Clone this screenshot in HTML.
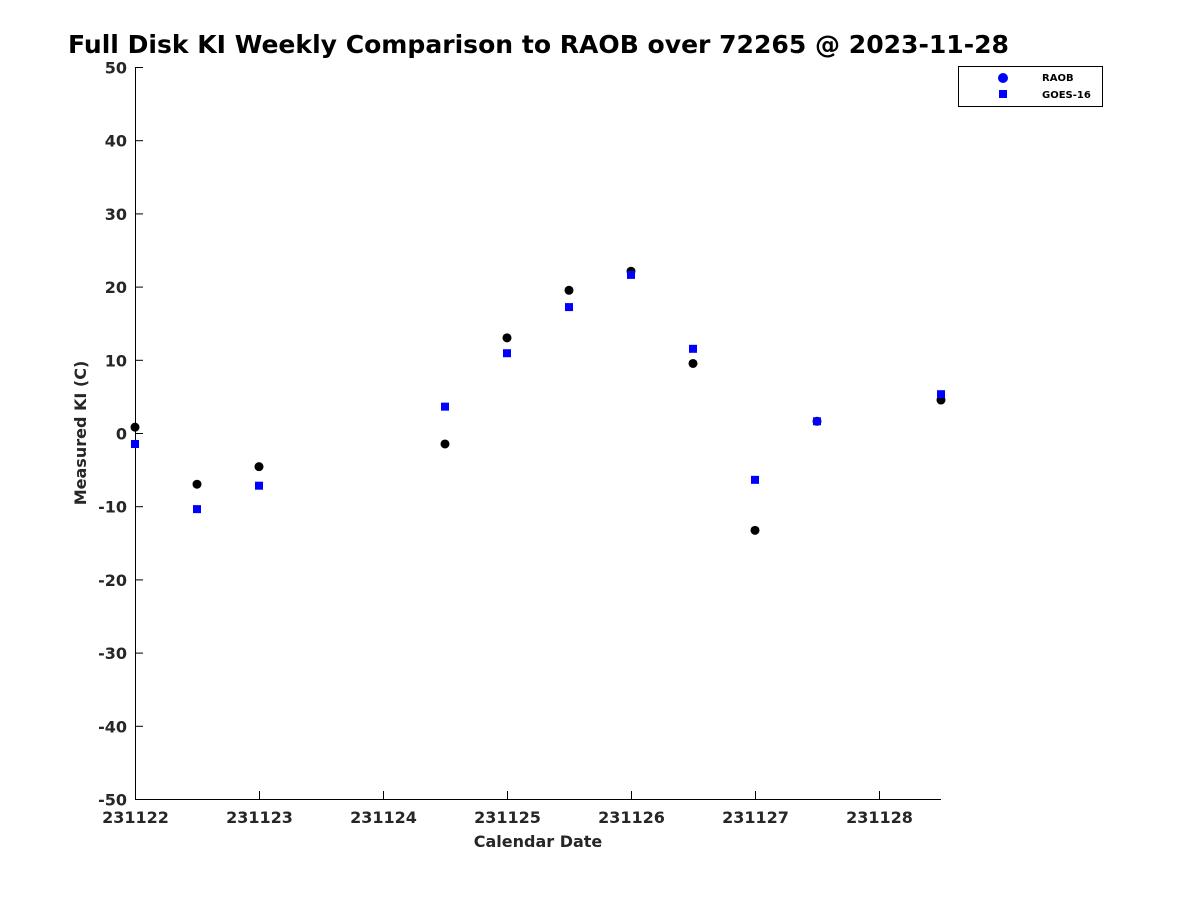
<!DOCTYPE html>
<html><head><meta charset="utf-8"><style>
body{margin:0;background:#fff;}
svg{display:block;font-family:"DejaVu Sans","Liberation Sans",sans-serif;}
</style></head><body>
<svg id="chart" width="1200" height="900">
<text x="68" y="53" font-size="25" font-weight="bold" fill="#000" textLength="941" lengthAdjust="spacingAndGlyphs">Full Disk KI Weekly Comparison to RAOB over 72265 @ 2023-11-28</text>
<g id="axes"></g>
<g id="marks"></g>
<g>
<rect x="958.5" y="66.5" width="144" height="40" fill="#fff" stroke="#000" stroke-width="1"/>
<circle cx="1003" cy="78" r="5" fill="#0000ff"/>
<text x="1042" y="81" font-size="10" font-weight="bold" fill="#000">RAOB</text>
<rect x="999" y="90" width="8" height="8" fill="#0000ff"/>
<text x="1042" y="98" font-size="10" font-weight="bold" fill="#000">GOES-16</text>
</g>
<text x="538" y="847" font-size="16" font-weight="bold" fill="#262626" text-anchor="middle">Calendar Date</text>
<text transform="translate(86,433) rotate(-90)" font-size="16" font-weight="bold" fill="#262626" text-anchor="middle">Measured KI (C)</text>
</svg>
<script>
const days = [0, 0.5, 1, 2.5, 3, 3.5, 4, 4.5, 5, 5.5, 6.5];
const raobValues = [0.8, -7.0, -4.6, -1.5, 13.0, 19.5, 22.1, 9.5, -13.3, 1.6, 4.5];
const goesValues = [-1.5, -10.4, -7.2, 3.6, 10.9, 17.2, 21.6, 11.5, -6.4, 1.6, 5.3];
const xTickLabels = ["231122","231123","231124","231125","231126","231127","231128"];
const yTicks = [50,40,30,20,10,0,-10,-20,-30,-40,-50];

const X0=135, X1=941, Y0=67, Y1=799;
const xMin=0, xMax=6.5, yMin=-50, yMax=50;
const xs = v => X0 + (v-xMin)/(xMax-xMin)*(X1-X0);
const ys = v => Y1 - (v-yMin)/(yMax-yMin)*(Y1-Y0);
const NS="http://www.w3.org/2000/svg";
const axes=document.getElementById('axes'), marks=document.getElementById('marks');
function mk(tag, attrs, parent){const e=document.createElementNS(NS,tag);for(const k in attrs)e.setAttribute(k,attrs[k]);parent.appendChild(e);return e;}

let l=mk('line',{x1:X0+0.5,y1:Y0,x2:X0+0.5,y2:Y1,stroke:'#000','stroke-width':1},axes);


l=mk('line',{x1:X0,y1:Y1+0.5,x2:X1,y2:Y1+0.5,stroke:'#000','stroke-width':1},axes);



yTicks.forEach(v=>{
  const y=ys(v)+0.5;
  const t=mk('line',{x1:X0,y1:y,x2:X0+8,y2:y,stroke:'#000'},axes);
  
  
  const tx=mk('text',{x:X0-8,y:y+6,'font-size':16,'font-weight':'bold',fill:'#262626','text-anchor':'end'},axes);
  tx.textContent=String(v);
  
  
});
xTickLabels.forEach((s,i)=>{
  const x=xs(i)+0.5;
  const t=mk('line',{x1:x,y1:Y1,x2:x,y2:Y1-8,stroke:'#000'},axes);
  
  
  const tx=mk('text',{x:x,y:Y1+24,'font-size':16,'font-weight':'bold',fill:'#262626','text-anchor':'middle'},axes);
  tx.textContent=s;
  
  
});
days.forEach((d,i)=>{
  const c=mk('circle',{cx:xs(d),cy:ys(raobValues[i]),r:4.5,fill:'#000'},marks);
  
  
});
days.forEach((d,i)=>{
  const r=mk('rect',{x:xs(d)-4,y:ys(goesValues[i])-4,width:8,height:8,fill:'#0000ff'},marks);
  
  
});
</script>
</body></html>
